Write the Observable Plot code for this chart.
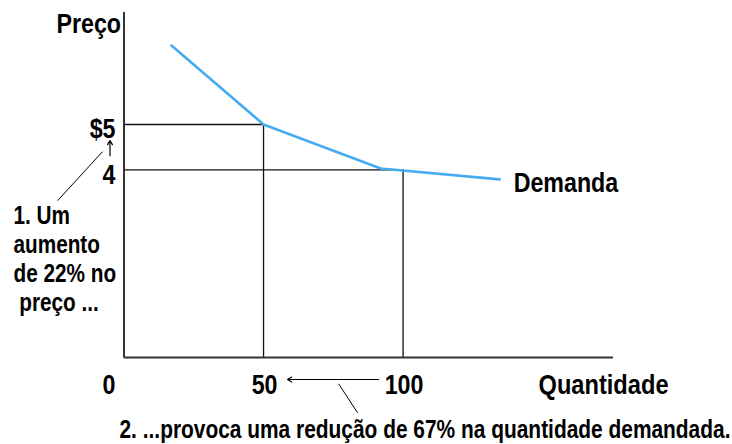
<!DOCTYPE html>
<html><head><meta charset="utf-8">
<script src="https://cdn.jsdelivr.net/npm/d3@7"></script>
<script src="https://cdn.jsdelivr.net/npm/@observablehq/plot@0.6"></script>
<style>body{margin:0;background:#fff} svg{display:block}</style>
</head><body><div id="chart"></div>
<script>
// Demand curve (quantity, price)
const demandQty = [17, 50, 92, 134.6];
const demandPrice = [6.74, 5, 4.03, 3.79];
// Reference points on the curve
const guideQty = [50, 100];
const guidePrice = [5, 4];
// Tick labels
const xTicks = [50, 100];
const xTickLabels = ["50", "100"];
const yTicks = [5, 4];
const yTickLabels = ["$5", "4"];
const originLabel = "0";
const qtyDomain = [0, 175.4];
const priceDomain = [-0.14, 7.47];
// Texts
const yTitle = "Preço";
const xTitle = "Quantidade";
const curveLabel = "Demanda";
const notePrice = "1. Um\naumento\nde 22% no\n\u00a0preço ...";
const noteQty = "2. ...provoca uma redução de 67% na quantidade demandada.";
// Annotation leader lines (data coordinates)
const leaderPrice = [{q1: -23.8, p1: 3.32, q2: -7.7, p2: 4.40}];
const leaderQty = [{q1: 76.9, p1: -0.72, q2: 83.7, p2: -1.36}];

const FONT = '"Liberation Sans",Arial,sans-serif';
const NARROW = 0.83; // Arial Narrow look: condensed horizontally
const demand = demandQty.map((q, i) => ({q, p: demandPrice[i]}));
const guides = guideQty.map((q, i) => ({q, p: guidePrice[i]}));
const xt = xTicks.map((q, i) => ({q, label: xTickLabels[i]}));
const yt = yTicks.map((p, i) => ({p, label: yTickLabels[i]}));
const yMin = priceDomain[0], yMax = priceDomain[1];
const T = {fontFamily: FONT, fontWeight: "bold", fill: "#000"};

const chart = Plot.plot({
  width: 732, height: 444,
  marginLeft: 123.5, marginRight: 119, marginTop: 12, marginBottom: 87,
  x: {domain: qtyDomain, axis: null},
  y: {domain: priceDomain, axis: null},
  style: {fontFamily: FONT, overflow: "visible", background: "#fff"},
  marks: [
    // guide lines
    Plot.ruleY(guides, {y: "p", x1: 0, x2: "q", stroke: "#111", strokeWidth: 1.3}),
    Plot.ruleX(guides, {x: "q", y1: yMin, y2: "p", stroke: "#111", strokeWidth: 1.3}),
    // axes
    Plot.ruleX([0], {y1: yMin, y2: yMax, stroke: "#333", strokeWidth: 2}),
    Plot.ruleY([yMin], {x1: 0, x2: qtyDomain[1], stroke: "#333", strokeWidth: 2}),
    // demand curve
    Plot.line(demand, {x: "q", y: "p", stroke: "#47abf2", strokeWidth: 2.6}),
    // tick labels
    Plot.text(yt, {x: 0, y: "p", text: "label", textAnchor: "end", lineAnchor: "bottom", dx: -8.5, dy: 14, fontSize: 28, ...T}),
    Plot.text(xt, {x: "q", y: yMin, text: "label", textAnchor: "middle", lineAnchor: "bottom", dx: 1, dy: 36, fontSize: 28, ...T}),
    Plot.text([originLabel], {x: 0, y: yMin, text: d => d, textAnchor: "middle", lineAnchor: "bottom", dx: -15, dy: 36, fontSize: 28, ...T}),
    // titles
    Plot.text([yTitle], {x: 0, y: yMax, text: d => d, textAnchor: "end", lineAnchor: "bottom", dx: -3, dy: 20, fontSize: 28, ...T}),
    Plot.text([xTitle], {frameAnchor: "bottom-right", text: d => d, textAnchor: "start", lineAnchor: "bottom", dx: -75, dy: 36, fontSize: 28.5, ...T}),
    Plot.text([curveLabel], {x: demandQty[3], y: demandPrice[3], text: d => d, textAnchor: "start", lineAnchor: "bottom", dx: 14, dy: 12.5, fontSize: 28, ...T}),
    // annotations
    Plot.arrow([0], {x1: 0, y1: guidePrice[1], x2: 0, y2: guidePrice[0], dx: -14, insetStart: 14, insetEnd: 16, stroke: "#000", strokeWidth: 1.2, headLength: 6}),
    Plot.link(leaderPrice, {x1: "q1", y1: "p1", x2: "q2", y2: "p2", stroke: "#000", strokeWidth: 1}),
    Plot.text([notePrice], {x: 0, y: guidePrice[1], text: d => d, textAnchor: "start", lineAnchor: "bottom", lineHeight: 1.16, dx: -110.5, dy: 140.7, fontSize: 25, ...T}),
    Plot.arrow([0], {x1: guideQty[1], y1: yMin, x2: guideQty[0], y2: yMin, dy: 22, insetStart: 24.5, insetEnd: 24, stroke: "#000", strokeWidth: 1.2, headLength: 6}),
    Plot.link(leaderQty, {x1: "q1", y1: "p1", x2: "q2", y2: "p2", stroke: "#000", strokeWidth: 1}),
    Plot.text([noteQty], {x: 0, y: yMin, text: d => d, textAnchor: "start", lineAnchor: "bottom", dx: -4.5, dy: 80, fontSize: 25.2, ...T})
  ]
});
// condense glyphs horizontally around each text's anchor point
chart.querySelectorAll("text").forEach(t => {
  const tr = t.getAttribute("transform");
  if (tr) t.setAttribute("transform", tr + ` scale(${NARROW},1)`);
  else {
    const x = +(t.getAttribute("x") || 0), y = +(t.getAttribute("y") || 0);
    t.removeAttribute("x"); t.removeAttribute("y");
    t.setAttribute("transform", `translate(${x},${y}) scale(${NARROW},1)`);
  }
});
document.getElementById("chart").append(chart);
</script>
</body></html>
